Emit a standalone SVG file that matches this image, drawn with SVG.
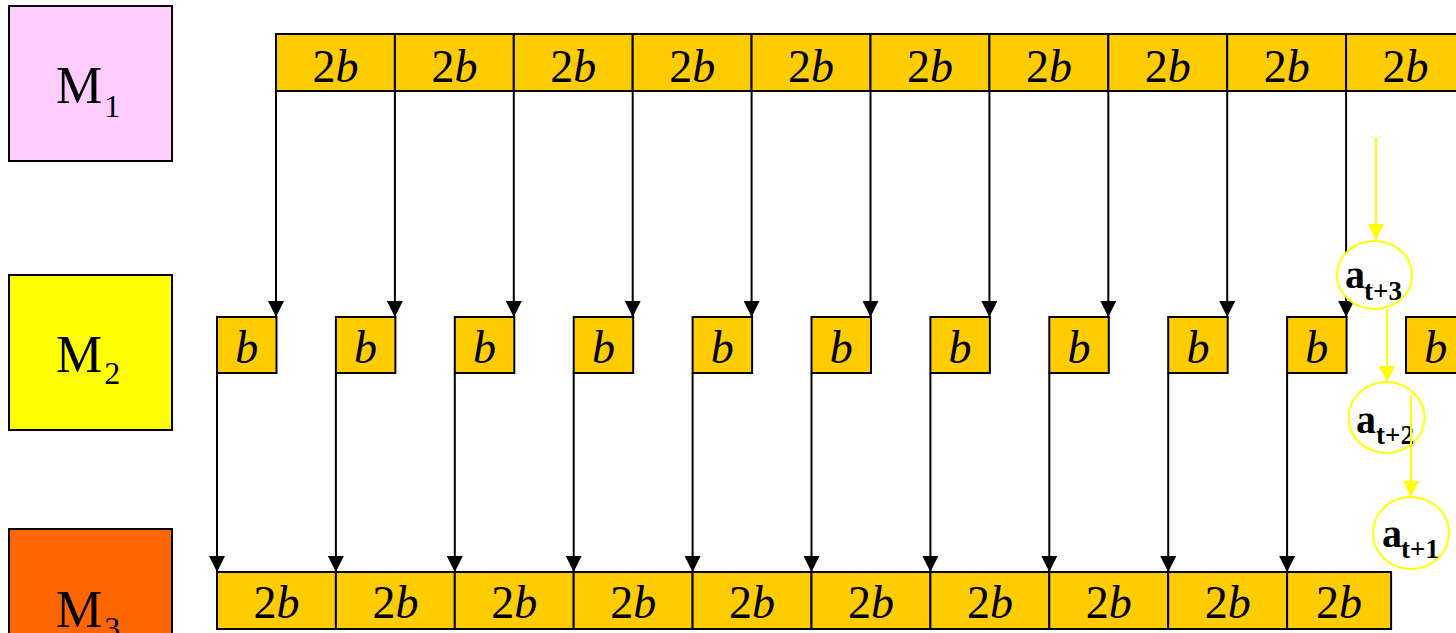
<svg xmlns="http://www.w3.org/2000/svg" width="1456" height="633" viewBox="0 0 1456 633">
<style>
.cell{fill:#FFCC00;stroke:#000;stroke-width:2}
.mem{stroke:#000;stroke-width:2}
.t2b{font-family:"Liberation Serif",serif;font-size:46px;fill:#000;text-anchor:middle}
.it{font-style:italic}
.mt{font-family:"Liberation Serif",serif;font-size:52px;fill:#000}
.ms{font-family:"Liberation Serif",serif;font-size:32px;fill:#000}
.conn{stroke:#000;stroke-width:2;fill:none}
.yconn{stroke:#FFFF00;stroke-width:2;fill:none}
.circ{fill:#FFFFFF;stroke:#FFFF00;stroke-width:2}
.at{font-family:"Liberation Serif",serif;font-weight:bold;font-size:40px;fill:#000}
.as{font-family:"Liberation Serif",serif;font-weight:bold;font-size:27px;fill:#000}
</style>
<defs>
<marker id="ah" markerUnits="userSpaceOnUse" markerWidth="16" markerHeight="16" viewBox="0 0 16 16" refX="16" refY="8" orient="auto">
<path d="M0,0 L16,8 L0,16 Z" fill="#000"/>
</marker>
<marker id="ahy" markerUnits="userSpaceOnUse" markerWidth="16" markerHeight="16" viewBox="0 0 16 16" refX="16" refY="8" orient="auto">
<path d="M0,0 L16,8 L0,16 Z" fill="#FFFF00"/>
</marker>
</defs>
<rect width="1456" height="633" fill="#FFFFFF"/>

<g id="M1">
<rect class="mem" x="9" y="6" width="163" height="155" fill="#FFCCFF"/>
<text class="mt" x="56" y="103">M<tspan class="ms" dx="2" dy="14">1</tspan></text>
</g>
<g id="M2">
<rect class="mem" x="9" y="275" width="163" height="155" fill="#FFFF00"/>
<text class="mt" x="56" y="372">M<tspan class="ms" dx="2" dy="12">2</tspan></text>
</g>
<g id="M3">
<rect class="mem" x="9" y="529" width="163" height="120" fill="#FF6600"/>
<text class="mt" x="56" y="627">M<tspan class="ms" dx="2" dy="12">3</tspan></text>
</g>

<g id="row-M1">
<rect class="cell" x="276" y="34" width="118.9" height="57"/><text class="t2b" x="335.5" y="82">2<tspan class="it">b</tspan></text>
<rect class="cell" x="394.9" y="34" width="118.9" height="57"/><text class="t2b" x="454.4" y="82">2<tspan class="it">b</tspan></text>
<rect class="cell" x="513.8" y="34" width="118.9" height="57"/><text class="t2b" x="573.3" y="82">2<tspan class="it">b</tspan></text>
<rect class="cell" x="632.7" y="34" width="118.9" height="57"/><text class="t2b" x="692.2" y="82">2<tspan class="it">b</tspan></text>
<rect class="cell" x="751.6" y="34" width="118.9" height="57"/><text class="t2b" x="811.1" y="82">2<tspan class="it">b</tspan></text>
<rect class="cell" x="870.5" y="34" width="118.9" height="57"/><text class="t2b" x="930" y="82">2<tspan class="it">b</tspan></text>
<rect class="cell" x="989.4" y="34" width="118.9" height="57"/><text class="t2b" x="1048.9" y="82">2<tspan class="it">b</tspan></text>
<rect class="cell" x="1108.3" y="34" width="118.9" height="57"/><text class="t2b" x="1167.8" y="82">2<tspan class="it">b</tspan></text>
<rect class="cell" x="1227.2" y="34" width="118.9" height="57"/><text class="t2b" x="1286.7" y="82">2<tspan class="it">b</tspan></text>
<rect class="cell" x="1346.1" y="34" width="118.9" height="57"/><text class="t2b" x="1405.6" y="82">2<tspan class="it">b</tspan></text>
</g>

<g id="row-M2">
<rect class="cell" x="217" y="317" width="59.5" height="56"/><text class="t2b it" x="246.7" y="363">b</text>
<rect class="cell" x="335.9" y="317" width="59.5" height="56"/><text class="t2b it" x="365.6" y="363">b</text>
<rect class="cell" x="454.8" y="317" width="59.5" height="56"/><text class="t2b it" x="484.5" y="363">b</text>
<rect class="cell" x="573.7" y="317" width="59.5" height="56"/><text class="t2b it" x="603.4" y="363">b</text>
<rect class="cell" x="692.6" y="317" width="59.5" height="56"/><text class="t2b it" x="722.3" y="363">b</text>
<rect class="cell" x="811.5" y="317" width="59.5" height="56"/><text class="t2b it" x="841.2" y="363">b</text>
<rect class="cell" x="930.4" y="317" width="59.5" height="56"/><text class="t2b it" x="960.1" y="363">b</text>
<rect class="cell" x="1049.3" y="317" width="59.5" height="56"/><text class="t2b it" x="1079" y="363">b</text>
<rect class="cell" x="1168.2" y="317" width="59.5" height="56"/><text class="t2b it" x="1197.9" y="363">b</text>
<rect class="cell" x="1287.1" y="317" width="59.5" height="56"/><text class="t2b it" x="1316.8" y="363">b</text>
<rect class="cell" x="1406" y="317" width="59.5" height="56"/><text class="t2b it" x="1435.7" y="363">b</text>
</g>

<g id="row-M3">
<rect class="cell" x="217" y="572" width="118.9" height="57"/><text class="t2b" x="276.5" y="618">2<tspan class="it">b</tspan></text>
<rect class="cell" x="335.9" y="572" width="118.9" height="57"/><text class="t2b" x="395.4" y="618">2<tspan class="it">b</tspan></text>
<rect class="cell" x="454.8" y="572" width="118.9" height="57"/><text class="t2b" x="514.3" y="618">2<tspan class="it">b</tspan></text>
<rect class="cell" x="573.7" y="572" width="118.9" height="57"/><text class="t2b" x="633.2" y="618">2<tspan class="it">b</tspan></text>
<rect class="cell" x="692.6" y="572" width="118.9" height="57"/><text class="t2b" x="752.1" y="618">2<tspan class="it">b</tspan></text>
<rect class="cell" x="811.5" y="572" width="118.9" height="57"/><text class="t2b" x="871" y="618">2<tspan class="it">b</tspan></text>
<rect class="cell" x="930.4" y="572" width="118.9" height="57"/><text class="t2b" x="989.9" y="618">2<tspan class="it">b</tspan></text>
<rect class="cell" x="1049.3" y="572" width="118.9" height="57"/><text class="t2b" x="1108.8" y="618">2<tspan class="it">b</tspan></text>
<rect class="cell" x="1168.2" y="572" width="118.9" height="57"/><text class="t2b" x="1227.7" y="618">2<tspan class="it">b</tspan></text>
<rect class="cell" x="1287.1" y="572" width="104" height="57"/><text class="t2b" x="1339" y="618">2<tspan class="it">b</tspan></text>
</g>

<g id="connectors">
<line class="conn" x1="276" y1="91" x2="276" y2="317" marker-end="url(#ah)"/>
<line class="conn" x1="394.9" y1="91" x2="394.9" y2="317" marker-end="url(#ah)"/>
<line class="conn" x1="513.8" y1="91" x2="513.8" y2="317" marker-end="url(#ah)"/>
<line class="conn" x1="632.7" y1="91" x2="632.7" y2="317" marker-end="url(#ah)"/>
<line class="conn" x1="751.6" y1="91" x2="751.6" y2="317" marker-end="url(#ah)"/>
<line class="conn" x1="870.5" y1="91" x2="870.5" y2="317" marker-end="url(#ah)"/>
<line class="conn" x1="989.4" y1="91" x2="989.4" y2="317" marker-end="url(#ah)"/>
<line class="conn" x1="1108.3" y1="91" x2="1108.3" y2="317" marker-end="url(#ah)"/>
<line class="conn" x1="1227.2" y1="91" x2="1227.2" y2="317" marker-end="url(#ah)"/>
<line class="conn" x1="1346.1" y1="91" x2="1346.1" y2="317" marker-end="url(#ah)"/>

<line class="conn" x1="217" y1="373" x2="217" y2="572" marker-end="url(#ah)"/>
<line class="conn" x1="335.9" y1="373" x2="335.9" y2="572" marker-end="url(#ah)"/>
<line class="conn" x1="454.8" y1="373" x2="454.8" y2="572" marker-end="url(#ah)"/>
<line class="conn" x1="573.7" y1="373" x2="573.7" y2="572" marker-end="url(#ah)"/>
<line class="conn" x1="692.6" y1="373" x2="692.6" y2="572" marker-end="url(#ah)"/>
<line class="conn" x1="811.5" y1="373" x2="811.5" y2="572" marker-end="url(#ah)"/>
<line class="conn" x1="930.4" y1="373" x2="930.4" y2="572" marker-end="url(#ah)"/>
<line class="conn" x1="1049.3" y1="373" x2="1049.3" y2="572" marker-end="url(#ah)"/>
<line class="conn" x1="1168.2" y1="373" x2="1168.2" y2="572" marker-end="url(#ah)"/>
<line class="conn" x1="1287.1" y1="373" x2="1287.1" y2="572" marker-end="url(#ah)"/>

<line class="yconn" x1="1376" y1="137" x2="1376" y2="240" marker-end="url(#ahy)"/>
<line class="yconn" x1="1387" y1="309" x2="1387" y2="382" marker-end="url(#ahy)"/>
</g>

<g id="a-t3">
<ellipse class="circ" cx="1374.5" cy="275" rx="37.5" ry="34"/>
<text class="at" x="1345" y="288">a<tspan class="as" x="1364" y="300">t+3</tspan></text>
</g>
<g id="a-t2">
<ellipse class="circ" cx="1386.5" cy="417.5" rx="38" ry="35.5"/>
<text class="at" x="1356" y="433">a<tspan class="as" x="1376" y="444">t+2</tspan></text>
</g>
<g id="a-t1">
<ellipse class="circ" cx="1411" cy="533" rx="38" ry="36"/>
<text class="at" x="1382" y="547">a<tspan class="as" x="1401" y="558">t+1</tspan></text>
</g>
<g id="connectors-over">
<line class="yconn" x1="1411" y1="395" x2="1411" y2="497" marker-end="url(#ahy)"/>
</g>
</svg>
